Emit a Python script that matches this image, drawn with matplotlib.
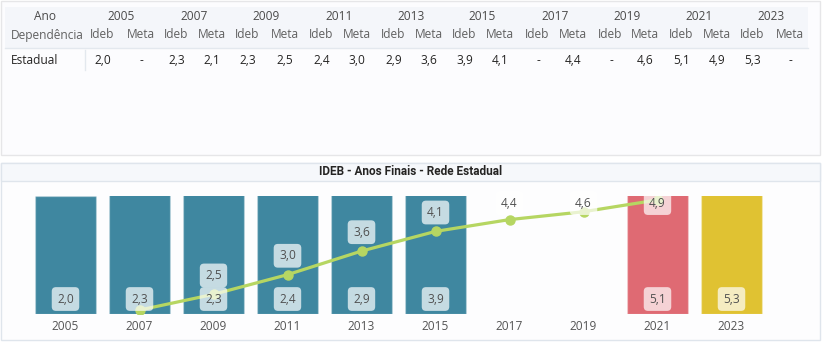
#!/usr/bin/env python3
"""IDEB Anos Finais - Rede Estadual: table + bar/line panel."""

import matplotlib
matplotlib.use("Agg")
import matplotlib.pyplot as plt
from matplotlib.patches import Rectangle
import numpy as np

plt.rcParams["font.family"] = ["Open Sans", "DejaVu Sans"]

YEARS = [2005, 2007, 2009, 2011, 2013, 2015, 2017, 2019, 2021, 2023]
IDEB = [2.0, 2.3, 2.3, 2.4, 2.9, 3.9, np.nan, np.nan, 5.1, 5.3]
META = [np.nan, 2.1, 2.5, 3.0, 3.6, 4.1, 4.4, 4.6, 4.9, np.nan]
ROW_LABEL = "Estadual"
TITLE = "IDEB - Anos Finais - Rede Estadual"

BAR_COLORS = ["#3f87a0"] * 6 + ["#3f87a0", "#3f87a0", "#df6a73", "#e0c232"]
LINE_COLOR = "#b6d662"

# table column centres (pixels)
IDEB_X = [102, 176, 247, 321, 393, 464, 537, 610, 681, 752]
META_X = [141, 212, 285, 357, 429, 500, 573, 645, 717, 790]

W, H = 828, 348
TFS = 8.6


def fmt(v):
  return "-" if np.isnan(v) else f"{v:.1f}".replace(".", ",")


fig = plt.figure(figsize=(W / 100, H / 100), dpi=100)
fig.patch.set_facecolor("white")

# pixel canvas
cv = fig.add_axes([0, 0, 1, 1], zorder=0)
cv.set_xlim(0, W)
cv.set_ylim(H, 0)
cv.axis("off")

# top panel (table)
cv.add_patch(Rectangle((1, 1), 819, 154, facecolor="#fcfcfe", edgecolor="#e6e6e8", lw=1))
cv.add_patch(Rectangle((5, 7), 803, 41, facecolor="#f4f6fa", edgecolor="none"))
cv.plot([5, 808], [48, 48], color="#e3e8ee", lw=1)
cv.plot([85, 85], [50, 70], color="#e3e8ee", lw=1)

cv.text(45, 17, "Ano", ha="center", va="center", fontsize=TFS, color="#4a4a4a")
cv.text(11, 35, "Dependência", ha="left", va="center", fontsize=TFS, color="#606060")
cv.text(11, 61, ROW_LABEL, ha="left", va="center", fontsize=TFS, color="#252423")
for i, year in enumerate(YEARS):
  cv.text((IDEB_X[i] + META_X[i]) / 2, 17, str(year), ha="center", va="center",
          fontsize=TFS, color="#4a4a4a")
  cv.text(IDEB_X[i], 35, "Ideb", ha="center", va="center", fontsize=TFS, color="#606060")
  cv.text(META_X[i], 35, "Meta", ha="center", va="center", fontsize=TFS, color="#606060")
  cv.text(IDEB_X[i] + 1, 61, fmt(IDEB[i]), ha="center", va="center", fontsize=TFS,
          color="#252423")
  cv.text(META_X[i], 61, fmt(META[i]), ha="center", va="center", fontsize=TFS,
          color="#252423")

# bottom panel frame + title band
cv.add_patch(Rectangle((1, 163), 819, 177, facecolor="#fdfdfe", edgecolor="#dfe5ec", lw=1))
cv.add_patch(Rectangle((1, 163), 819, 18, facecolor="#f6f8fb", edgecolor="#dfe5ec", lw=1))
cv.text(411, 171.5, TITLE, ha="center", va="center", fontsize=8.5,
        fontweight="bold", color="#252423", family=["Roboto", "DejaVu Sans"])

# chart axes: bar centres at 65.5 + 74*i px, plot area 196..314 px
x0, x1 = 28, 800
y_top, y_bot = 196, 314
axb = fig.add_axes([x0 / W, (H - y_bot) / H, (x1 - x0) / W, (y_bot - y_top) / H], zorder=2)
axb.set_xlim((x0 - 65.5) / 74, (x1 - 65.5) / 74)
axb.set_ylim(0, np.nanmin(IDEB))
axb.patch.set_alpha(0)
x = np.arange(len(YEARS))
axb.bar(x, IDEB, width=0.824, color=BAR_COLORS, edgecolor=(1, 1, 1, 0.25), linewidth=1.0)
axb.set_xticks(x)
axb.set_xticklabels([str(y) for y in YEARS], fontsize=8.6, color="#555555")
axb.tick_params(axis="x", length=0, pad=4)
axb.set_yticks([])
for s in axb.spines.values():
  s.set_visible(False)

axl = axb.twinx()
axl.set_ylim(2.0, 5.0)
axl.set_yticks([])
for s in axl.spines.values():
  s.set_visible(False)
meta = np.array(META)
axl.plot(x, meta, color=LINE_COLOR, lw=2.3, marker="o", markersize=6.5, zorder=3)

box = dict(boxstyle="round,pad=0.45,rounding_size=0.35", facecolor="white",
           alpha=0.7, edgecolor="none")
bar_lab_y = 0.127
for i, v in enumerate(IDEB):
  if np.isnan(v):
    continue
  axl.text(i, bar_lab_y, fmt(v), transform=axl.get_xaxis_transform(), ha="center",
           va="center", fontsize=8.6, color="#505050", bbox=box, zorder=5)

bar_lab_val = 2.0 + bar_lab_y * 3.0
for i, v in enumerate(META):
  if np.isnan(v):
    continue
  ly = min(v + 0.48, 4.82)
  if ly - bar_lab_val < 0.45:
    continue  # hidden by overlap, like the original
  axl.text(i, ly, fmt(v), ha="center", va="center", fontsize=8.6, color="#505050",
           bbox=box, zorder=5)

fig.savefig("out.png", dpi=100)
